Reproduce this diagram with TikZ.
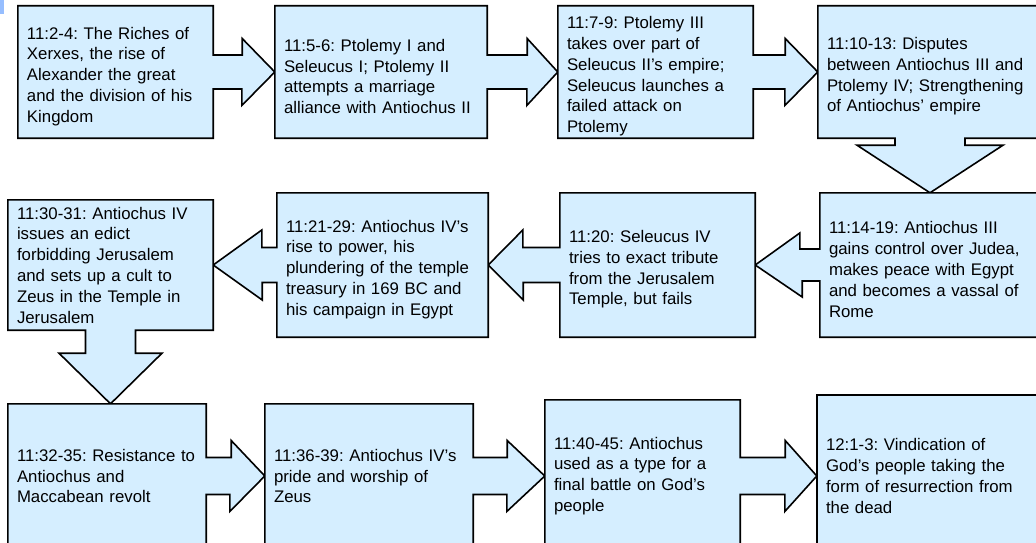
\documentclass[tikz,border=0pt]{standalone}
\usepackage{fontspec}
\setmainfont{Liberation Sans}
\usetikzlibrary{calc,backgrounds}
\definecolor{boxblue}{RGB}{213,238,255}
\definecolor{cornerblue}{RGB}{150,190,255}
\frenchspacing

\begin{document}
\begin{tikzpicture}[
        x=1pt, y=1pt,
        box/.style={rectangle, inner xsep=9pt, inner ysep=0pt, align=left, text width=#1,
            font=\fontsize{16.8}{20.8}\selectfont},
        textdown/.style={execute at begin node={\rule{0pt}{21pt}}},
        outline/.style={draw=black, line width=1.6pt, fill=boxblue, line join=miter}
    ]
    \useasboundingbox (0,0) rectangle (1036,-543);

    % Row 1: left to right
    \node[box=177pt, textdown, minimum height=132pt] (b1) at (115.5,-72) {11:2-4: The Riches of\\Xerxes, the rise of\\Alexander the great\\and the division of his\\Kingdom};
    \node[box=194pt, textdown, minimum height=132pt] (b2) at (381,-72) {11:5-6: Ptolemy I and\\Seleucus I; Ptolemy II\\attempts a marriage\\alliance with Antiochus II};
    \node[box=177pt, textdown, minimum height=132pt] (b3) at (655.5,-72) {11:7-9: Ptolemy III\\takes over part of\\Seleucus II’s empire;\\Seleucus launches a\\failed attack on\\Ptolemy};
    \node[box=206pt, textdown, minimum height=132pt] (b4) at (930,-72) {11:10-13: Disputes\\between Antiochus III and\\Ptolemy IV; Strengthening\\of Antiochus’ empire};

    % Row 2: right to left
    \node[box=204pt, textdown, minimum height=144pt] (b5) at (931,-265) {11:14-19: Antiochus III\\gains control over Judea,\\makes peace with Egypt\\and becomes a vassal of\\Rome};
    \node[box=177pt, textdown, minimum height=144pt] (b6) at (657.5,-265) {11:20: Seleucus IV\\tries to exact tribute\\from the Jerusalem\\Temple, but fails};
    \node[box=193pt, textdown, minimum height=144pt] (b7) at (382.5,-265) {11:21-29: Antiochus IV’s\\rise to power, his\\plundering of the temple\\treasury in 169 BC and\\his campaign in Egypt};
    \node[box=187pt, minimum height=130pt] (b8) at (110.5,-265) {11:30-31: Antiochus IV\\issues an edict\\forbidding Jerusalem\\and sets up a cult to\\Zeus in the Temple in\\Jerusalem};

    % Row 3: left to right (cut off at the bottom)
    \node[box=180pt, minimum height=144pt] (b9) at (107,-476) {11:32-35: Resistance to\\Antiochus and\\Maccabean revolt};
    \node[box=190pt, minimum height=144pt] (b10) at (369,-476) {11:36-39: Antiochus IV’s\\pride and worship of\\Zeus};
    \node[box=177pt, minimum height=152pt] (b11) at (642.5,-476) {11:40-45: Antiochus\\used as a type for a\\final battle on God’s\\people};
    \node[box=207pt, minimum height=162pt] (b12) at (929.5,-476) {12:1-3: Vindication of\\God’s people taking the\\form of resurrection from\\the dead};

    % Callout outlines behind the text
    \begin{scope}[on background layer]
    \clip (0,0) rectangle (1036,-543);
    \fill[cornerblue] (0,0) rectangle (4,-14);

    \path[outline] (b1.north west) -- (b1.north east) -- ($(b1.east)+(0,17)$) -- ++(29,0) -- ++(0,16.5)
        -- (b2.west) -- ++(-33,-33.5) -- ++(0,16.5) -- ($(b1.east)+(0,-17)$) -- (b1.south east) -- (b1.south west) -- cycle;
    \path[outline] (b2.north west) -- (b2.north east) -- ($(b2.east)+(0,17)$) -- ++(40,0) -- ++(0,16.5)
        -- (b3.west) -- ++(-31,-33.5) -- ++(0,16.5) -- ($(b2.east)+(0,-17)$) -- (b2.south east) -- (b2.south west) -- cycle;
    \path[outline] (b3.north west) -- (b3.north east) -- ($(b3.east)+(0,17)$) -- ++(32,0) -- ++(0,16.5)
        -- (b4.west) -- ++(-33,-33.5) -- ++(0,16.5) -- ($(b3.east)+(0,-17)$) -- (b3.south east) -- (b3.south west) -- cycle;
    \path[outline] (b4.north west) -- (b4.north east) -- (b4.south east) -- ($(b4.south)+(35,0)$) -- ++(0,-7) -- ++(38,0)
        -- (b4.south |- b5.north) -- ($(b4.south)+(-73,-7)$) -- ++(38,0) -- ++(0,7) -- (b4.south west) -- cycle;

    \path[outline] (b5.north east) -- (b5.north west) -- ($(b5.west)+(0,16)$) -- ++(-20,0) -- ++(0,16)
        -- (b6.east) -- ++(47,-32) -- ++(0,16) -- ($(b5.west)+(0,-16)$) -- (b5.south west) -- (b5.south east) -- cycle;
    \path[outline] (b6.north east) -- (b6.north west) -- ($(b6.west)+(0,17.5)$) -- ++(-37,0) -- ++(0,17.5)
        -- (b7.east) -- ++(35,-35) -- ++(0,17.5) -- ($(b6.west)+(0,-17.5)$) -- (b6.south west) -- (b6.south east) -- cycle;
    \path[outline] (b7.north east) -- (b7.north west) -- ($(b7.west)+(0,17.5)$) -- ++(-15,0) -- ++(0,17.5)
        -- (b8.east) -- ++(49,-35) -- ++(0,17.5) -- ($(b7.west)+(0,-17.5)$) -- (b7.south west) -- (b7.south east) -- cycle;
    \path[outline] (b8.north west) -- (b8.north east) -- (b8.south east) -- ($(b8.south)+(25,0)$) -- ++(0,-23) -- ++(26.5,0)
        -- (b8.south |- b9.north) -- ($(b8.south)+(-51.5,-23)$) -- ++(26.5,0) -- ++(0,23) -- (b8.south west) -- cycle;

    \path[outline] (b9.north west) -- (b9.north east) -- ($(b9.east)+(0,18.5)$) -- ++(25,0) -- ++(0,17)
        -- (b10.west) -- ++(-35,-35.5) -- ++(0,17) -- ($(b9.east)+(0,-18.5)$) -- (b9.south east) -- (b9.south west) -- cycle;
    \path[outline] (b10.north west) -- (b10.north east) -- ($(b10.east)+(0,18.5)$) -- ++(34,0) -- ++(0,17)
        -- (b11.west) -- ++(-38,-35.5) -- ++(0,17) -- ($(b10.east)+(0,-18.5)$) -- (b10.south east) -- (b10.south west) -- cycle;
    \path[outline] (b11.north west) -- (b11.north east) -- ($(b11.east)+(0,18.5)$) -- ++(45,0) -- ++(0,17)
        -- (b12.west) -- ++(-32,-35.5) -- ++(0,17) -- ($(b11.east)+(0,-18.5)$) -- (b11.south east) -- (b11.south west) -- cycle;
    \path[outline] (b12.north west) rectangle (b12.south east);
    \end{scope}

\end{tikzpicture}
\end{document}
